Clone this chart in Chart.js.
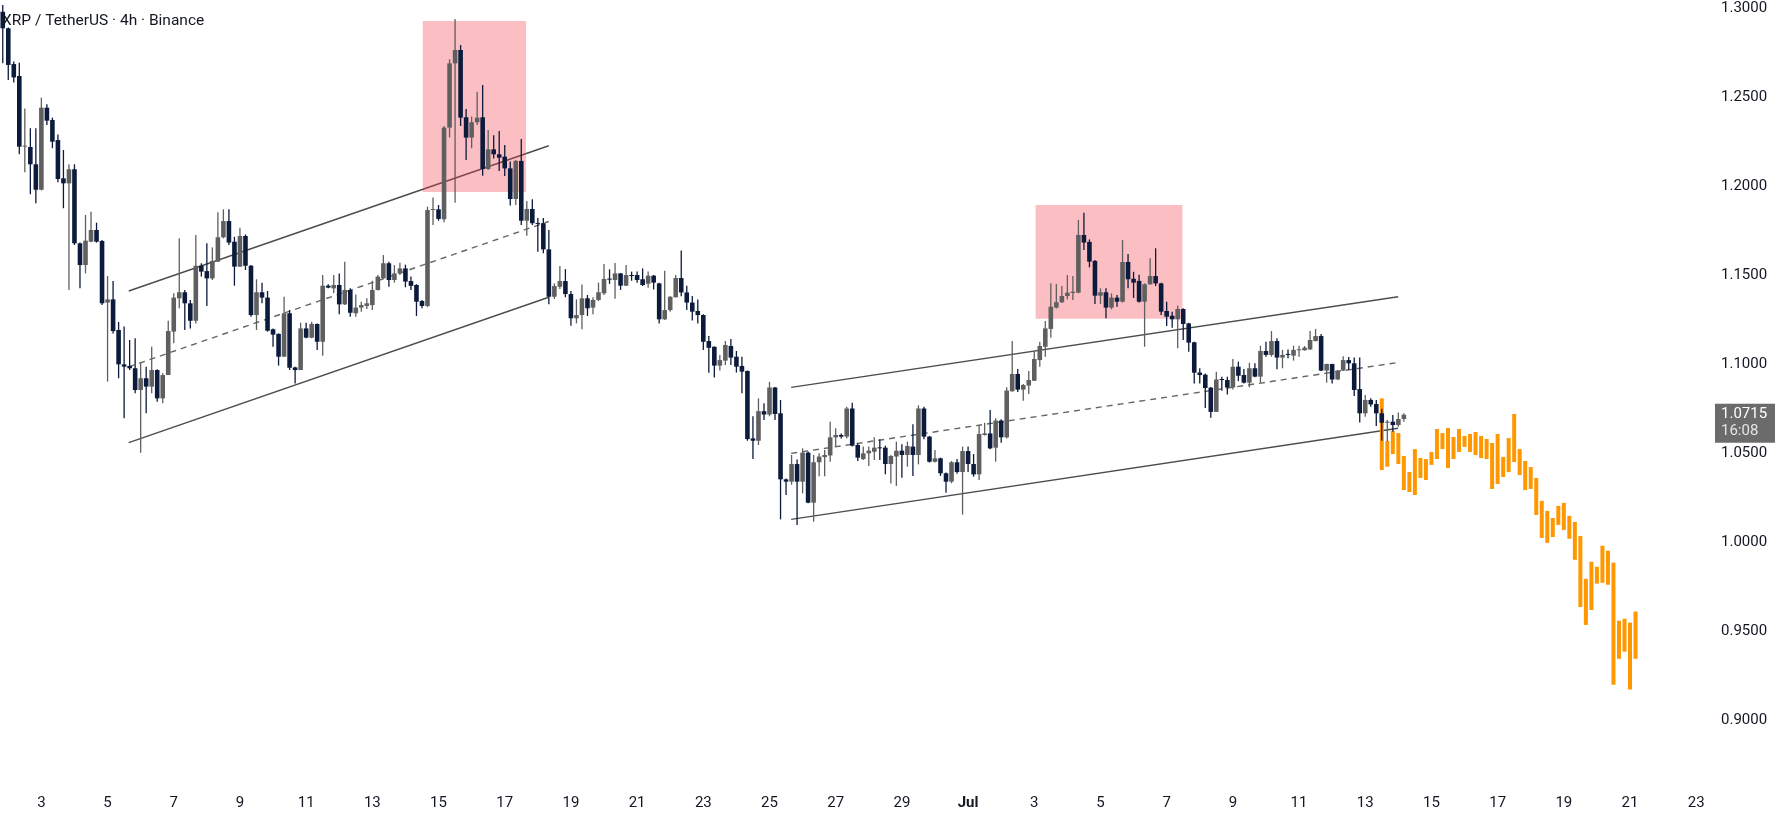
<!DOCTYPE html>
<html>
<head>
<meta charset="utf-8">
<script src="https://cdn.jsdelivr.net/npm/chart.js@4.4.1/dist/chart.umd.min.js"></script>
<style>
  html, body { margin: 0; padding: 0; background: #ffffff; }
  #chart { display: block; }
</style>
</head>
<body>
<canvas id="chart" width="1775" height="815"></canvas>
<script>
// XRP / TetherUS, 4h candles, first bar Jun 1 20:00
const titleText = 'XRP / TetherUS · 4h · Binance';
const firstBarUTC = Date.UTC(2021, 5, 1, 20);
const barHours = 4;
const slotCount = 310; // candles + empty space to the right
const monthNames = ['Jan', 'Feb', 'Mar', 'Apr', 'May', 'Jun', 'Jul', 'Aug', 'Sep', 'Oct', 'Nov', 'Dec'];

const opens = [
  1.2979, 1.2886, 1.2685, 1.2618, 1.2221, 1.2219, 1.2122, 1.1979, 1.2440, 1.2371,
  1.2258, 1.2043, 1.2015, 1.2094, 1.1678, 1.1556, 1.1687, 1.1753, 1.1691, 1.1345,
  1.1363, 1.1191, 1.0998, 1.0989, 1.0976, 1.0854, 1.0920, 1.0873, 1.0966, 1.0807,
  1.0938, 1.1182, 1.1369, 1.1403, 1.1341, 1.1243, 1.1552, 1.1522, 1.1481, 1.1575,
  1.1712, 1.1803, 1.1687, 1.1547, 1.1719, 1.1552, 1.1275, 1.1403, 1.1373, 1.1195,
  1.1169, 1.1041, 1.1285, 1.0981, 1.0966, 1.1200, 1.1148, 1.1225, 1.1125, 1.1440,
  1.1425, 1.1444, 1.1335, 1.1416, 1.1285, 1.1317, 1.1326, 1.1331, 1.1416, 1.1481,
  1.1566, 1.1472, 1.1509, 1.1537, 1.1466, 1.1444, 1.1354, 1.1326, 1.1865, 1.1869,
  1.1813, 1.2328, 1.2689, 1.2764, 1.2386, 1.2272, 1.2358, 1.2386, 1.2096, 1.2206,
  1.2178, 1.2165, 1.2099, 1.1927, 1.2141, 1.1805, 1.1871, 1.1791, 1.1791, 1.1644,
  1.1378, 1.1434, 1.1466, 1.1393, 1.1257, 1.1275, 1.1369, 1.1317, 1.1360, 1.1397,
  1.1478, 1.1472, 1.1509, 1.1440, 1.1500, 1.1500, 1.1476, 1.1451, 1.1496, 1.1453,
  1.1251, 1.1303, 1.1375, 1.1483, 1.1402, 1.1345, 1.1298, 1.1275, 1.1129, 1.1097,
  1.0991, 1.1019, 1.1101, 1.1041, 1.0989, 1.0961, 1.0582, 1.0569, 1.0735, 1.0716,
  1.0868, 1.0723, 1.0352, 1.0339, 1.0438, 1.0339, 1.0502, 1.0221, 1.0448, 1.0477,
  1.0486, 1.0588, 1.0601, 1.0592, 1.0750, 1.0545, 1.0466, 1.0498, 1.0507, 1.0530,
  1.0530, 1.0438, 1.0480, 1.0513, 1.0489, 1.0536, 1.0489, 1.0750, 1.0592, 1.0451,
  1.0470, 1.0386, 1.0339, 1.0448, 1.0393, 1.0511, 1.0438, 1.0380, 1.0601, 1.0610,
  1.0530, 1.0682, 1.0588, 1.0847, 1.0944, 1.0856, 1.0879, 1.0906, 1.1022, 1.1097,
  1.1197, 1.1317, 1.1347, 1.1382, 1.1399, 1.1401, 1.1725, 1.1686, 1.1579, 1.1384,
  1.1403, 1.1317, 1.1373, 1.1350, 1.1573, 1.1479, 1.1467, 1.1350, 1.1448, 1.1494,
  1.1453, 1.1298, 1.1271, 1.1251, 1.1309, 1.1228, 1.1122, 1.0952, 1.0940, 1.0867,
  1.0731, 1.0915, 1.0910, 1.0868, 1.0985, 1.0938, 1.0895, 1.0976, 1.0929, 1.1073,
  1.1051, 1.1129, 1.1036, 1.1056, 1.1047, 1.1077, 1.1077, 1.1082, 1.1129, 1.1157,
  1.0963, 1.1000, 1.0913, 1.0963, 1.1022, 1.1004, 1.0859, 1.0723, 1.0798, 1.0775,
  1.0723, 1.0670, 1.0676, 1.0657, 1.0691
];
const highs = [
  1.3017, 1.2890, 1.2699, 1.2693, 1.2436, 1.2324, 1.2324, 1.2496, 1.2459, 1.2384,
  1.2290, 1.2202, 1.2122, 1.2122, 1.1682, 1.1837, 1.1856, 1.1794, 1.1697, 1.1494,
  1.1466, 1.1236, 1.1210, 1.1135, 1.1144, 1.1004, 1.0985, 1.1097, 1.0970, 1.0948,
  1.1243, 1.1397, 1.1706, 1.1416, 1.1359, 1.1725, 1.1566, 1.1678, 1.1655, 1.1852,
  1.1869, 1.1869, 1.1715, 1.1766, 1.1728, 1.1556, 1.1476, 1.1457, 1.1410, 1.1200,
  1.1172, 1.1378, 1.1303, 1.0985, 1.1232, 1.1232, 1.1238, 1.1228, 1.1500, 1.1448,
  1.1500, 1.1509, 1.1575, 1.1425, 1.1391, 1.1350, 1.1369, 1.1468, 1.1500, 1.1612,
  1.1575, 1.1556, 1.1569, 1.1558, 1.1491, 1.1448, 1.1360, 1.1884, 1.1936, 1.1893,
  1.2337, 1.2712, 1.2938, 1.2792, 1.2433, 1.2390, 1.2530, 1.2567, 1.2315, 1.2285,
  1.2309, 1.2230, 1.2137, 1.2146, 1.2264, 1.1916, 1.1925, 1.1820, 1.1820, 1.1753,
  1.1453, 1.1550, 1.1533, 1.1410, 1.1363, 1.1447, 1.1388, 1.1375, 1.1457, 1.1562,
  1.1532, 1.1567, 1.1511, 1.1556, 1.1519, 1.1519, 1.1537, 1.1519, 1.1500, 1.1457,
  1.1524, 1.1381, 1.1500, 1.1637, 1.1440, 1.1382, 1.1363, 1.1280, 1.1157, 1.1099,
  1.1051, 1.1129, 1.1140, 1.1073, 1.1041, 1.0963, 1.0706, 1.0807, 1.0779, 1.0900,
  1.0871, 1.0798, 1.0357, 1.0489, 1.0464, 1.0526, 1.0508, 1.0489, 1.0498, 1.0517,
  1.0676, 1.0639, 1.0610, 1.0760, 1.0783, 1.0554, 1.0536, 1.0536, 1.0588, 1.0577,
  1.0541, 1.0489, 1.0564, 1.0549, 1.0564, 1.0661, 1.0768, 1.0760, 1.0596, 1.0517,
  1.0474, 1.0390, 1.0455, 1.0466, 1.0536, 1.0536, 1.0494, 1.0657, 1.0670, 1.0742,
  1.0695, 1.0690, 1.0870, 1.1129, 1.0972, 1.0888, 1.0961, 1.1069, 1.1125, 1.1242,
  1.1453, 1.1449, 1.1438, 1.1500, 1.1494, 1.1809, 1.1850, 1.1700, 1.1584, 1.1425,
  1.1425, 1.1397, 1.1388, 1.1697, 1.1618, 1.1518, 1.1502, 1.1453, 1.1594, 1.1650,
  1.1457, 1.1350, 1.1294, 1.1328, 1.1313, 1.1232, 1.1125, 1.0976, 1.0946, 1.0871,
  1.0957, 1.0929, 1.0929, 1.1028, 1.1013, 1.0972, 1.1007, 1.1004, 1.1103, 1.1125,
  1.1185, 1.1144, 1.1079, 1.1082, 1.1103, 1.1103, 1.1101, 1.1185, 1.1197, 1.1168,
  1.1002, 1.1002, 1.0966, 1.1043, 1.1039, 1.1036, 1.1036, 1.0826, 1.0807, 1.0798,
  1.0748, 1.0686, 1.0714, 1.0727, 1.0723
];
const lows = [
  1.2689, 1.2596, 1.2581, 1.2178, 1.2077, 1.1953, 1.1903, 1.1975, 1.2343, 1.2212,
  1.2021, 1.1875, 1.1416, 1.1669, 1.1425, 1.1509, 1.1684, 1.1682, 1.1331, 1.0901,
  1.1172, 1.0920, 1.0695, 1.0966, 1.0835, 1.0502, 1.0723, 1.0835, 1.0788, 1.0779,
  1.0938, 1.1116, 1.1313, 1.1191, 1.1200, 1.1228, 1.1491, 1.1326, 1.1472, 1.1575,
  1.1706, 1.1669, 1.1440, 1.1545, 1.1528, 1.1266, 1.1191, 1.1341, 1.1182, 1.1097,
  1.0991, 1.1041, 1.0966, 1.0891, 1.0966, 1.1144, 1.1144, 1.1079, 1.1047, 1.1425,
  1.1397, 1.1279, 1.1331, 1.1266, 1.1266, 1.1294, 1.1309, 1.1303, 1.1413, 1.1479,
  1.1434, 1.1457, 1.1500, 1.1431, 1.1416, 1.1270, 1.1313, 1.1320, 1.1781, 1.1805,
  1.1796, 1.2273, 1.1906, 1.2337, 1.2146, 1.2212, 1.2343, 1.2058, 1.2090, 1.2155,
  1.2084, 1.2056, 1.1890, 1.1893, 1.1781, 1.1721, 1.1781, 1.1631, 1.1622, 1.1335,
  1.1365, 1.1421, 1.1375, 1.1215, 1.1228, 1.1195, 1.1270, 1.1279, 1.1354, 1.1388,
  1.1450, 1.1367, 1.1416, 1.1438, 1.1468, 1.1457, 1.1438, 1.1429, 1.1419, 1.1228,
  1.1247, 1.1294, 1.1373, 1.1381, 1.1303, 1.1245, 1.1228, 1.1079, 1.0951, 1.0924,
  1.0963, 1.0994, 1.0994, 1.0952, 1.0836, 1.0569, 1.0466, 1.0545, 1.0686, 1.0706,
  1.0686, 1.0127, 1.0264, 1.0322, 1.0096, 1.0273, 1.0217, 1.0114, 1.0369, 1.0369,
  1.0451, 1.0536, 1.0582, 1.0582, 1.0536, 1.0455, 1.0461, 1.0427, 1.0461, 1.0461,
  1.0380, 1.0328, 1.0315, 1.0361, 1.0423, 1.0371, 1.0436, 1.0577, 1.0446, 1.0446,
  1.0371, 1.0277, 1.0330, 1.0384, 1.0154, 1.0393, 1.0367, 1.0348, 1.0598, 1.0521,
  1.0451, 1.0558, 1.0582, 1.0844, 1.0843, 1.0794, 1.0832, 1.0904, 1.0985, 1.1041,
  1.1148, 1.1312, 1.1343, 1.1363, 1.1360, 1.1397, 1.1640, 1.1543, 1.1337, 1.1337,
  1.1257, 1.1307, 1.1322, 1.1345, 1.1425, 1.1371, 1.1345, 1.1097, 1.1445, 1.1438,
  1.1275, 1.1213, 1.1204, 1.1088, 1.1135, 1.1069, 1.0891, 1.0891, 1.0753, 1.0698,
  1.0730, 1.0850, 1.0829, 1.0857, 1.0904, 1.0891, 1.0869, 1.0926, 1.0895, 1.1041,
  1.1041, 1.0970, 1.0976, 1.1032, 1.1019, 1.1041, 1.1075, 1.1079, 1.1127, 1.0961,
  1.0895, 1.0891, 1.0910, 1.0961, 1.0966, 1.0820, 1.0672, 1.0704, 1.0760, 1.0651,
  1.0569, 1.0564, 1.0620, 1.0648, 1.0676
];
const closes = [
  1.2886, 1.2680, 1.2610, 1.2221, 1.2225, 1.2122, 1.1979, 1.2440, 1.2367, 1.2249,
  1.2039, 1.2015, 1.2094, 1.1678, 1.1556, 1.1693, 1.1753, 1.1687, 1.1341, 1.1363,
  1.1185, 1.0998, 1.0985, 1.0976, 1.0854, 1.0920, 1.0873, 1.0966, 1.0807, 1.0938,
  1.1185, 1.1373, 1.1403, 1.1341, 1.1243, 1.1552, 1.1519, 1.1481, 1.1579, 1.1712,
  1.1803, 1.1682, 1.1547, 1.1719, 1.1552, 1.1275, 1.1403, 1.1373, 1.1187, 1.1165,
  1.1041, 1.1285, 1.0979, 1.0966, 1.1200, 1.1148, 1.1225, 1.1125, 1.1440, 1.1429,
  1.1444, 1.1335, 1.1416, 1.1288, 1.1317, 1.1331, 1.1341, 1.1416, 1.1491, 1.1566,
  1.1472, 1.1509, 1.1537, 1.1463, 1.1439, 1.1350, 1.1326, 1.1865, 1.1869, 1.1815,
  1.2328, 1.2689, 1.2764, 1.2384, 1.2272, 1.2358, 1.2384, 1.2096, 1.2206, 1.2178,
  1.2159, 1.2099, 1.1927, 1.2141, 1.1805, 1.1871, 1.1791, 1.1787, 1.1644, 1.1378,
  1.1438, 1.1466, 1.1393, 1.1257, 1.1275, 1.1369, 1.1313, 1.1360, 1.1403, 1.1478,
  1.1474, 1.1509, 1.1440, 1.1500, 1.1494, 1.1472, 1.1444, 1.1496, 1.1457, 1.1251,
  1.1303, 1.1378, 1.1483, 1.1402, 1.1345, 1.1294, 1.1275, 1.1125, 1.1091, 1.0991,
  1.1022, 1.1107, 1.1036, 1.0985, 1.0957, 1.0578, 1.0569, 1.0735, 1.0716, 1.0868,
  1.0719, 1.0352, 1.0339, 1.0438, 1.0339, 1.0502, 1.0221, 1.0448, 1.0480, 1.0489,
  1.0588, 1.0601, 1.0592, 1.0750, 1.0541, 1.0474, 1.0498, 1.0513, 1.0530, 1.0526,
  1.0438, 1.0483, 1.0513, 1.0489, 1.0539, 1.0489, 1.0750, 1.0592, 1.0451, 1.0470,
  1.0386, 1.0339, 1.0448, 1.0393, 1.0511, 1.0438, 1.0380, 1.0607, 1.0610, 1.0526,
  1.0682, 1.0588, 1.0851, 1.0944, 1.0856, 1.0882, 1.0910, 1.1028, 1.1101, 1.1200,
  1.1322, 1.1347, 1.1382, 1.1401, 1.1406, 1.1725, 1.1682, 1.1575, 1.1384, 1.1403,
  1.1317, 1.1373, 1.1350, 1.1573, 1.1476, 1.1457, 1.1350, 1.1448, 1.1494, 1.1453,
  1.1294, 1.1266, 1.1251, 1.1309, 1.1225, 1.1120, 1.0951, 1.0938, 1.0865, 1.0731,
  1.0913, 1.0910, 1.0868, 1.0985, 1.0934, 1.0895, 1.0976, 1.0929, 1.1073, 1.1051,
  1.1129, 1.1036, 1.1051, 1.1051, 1.1079, 1.1079, 1.1092, 1.1135, 1.1157, 1.0963,
  1.1000, 1.0913, 1.0963, 1.1022, 1.1004, 1.0854, 1.0723, 1.0798, 1.0773, 1.0723,
  1.0670, 1.0676, 1.0657, 1.0691, 1.0715
];

// projected path (orange bars), starts at bar 250
const projStart = 250;
const projLows = [
  1.0404, 1.0423, 1.0494, 1.0438, 1.0292, 1.0281, 1.0264, 1.0360, 1.0348, 1.0433,
  1.0466, 1.0522, 1.0416, 1.0466, 1.0506, 1.0534, 1.0506, 1.0489, 1.0472, 1.0466,
  1.0298, 1.0326, 1.0365, 1.0393, 1.0449, 1.0376, 1.0292, 1.0298, 1.0152, 1.0023,
  0.9995, 1.0028, 1.0096, 1.0068, 1.0018, 0.9900, 0.9635, 0.9534, 0.9618, 0.9766,
  0.9771, 0.9760, 0.9198, 0.9344, 0.9384, 0.9171, 0.9344
];
const projHighs = [
  1.0807, 1.0567, 1.0624, 1.0612, 1.0483, 1.0393, 1.0522, 1.0472, 1.0466, 1.0506,
  1.0635, 1.0612, 1.0640, 1.0590, 1.0635, 1.0596, 1.0607, 1.0618, 1.0596, 1.0579,
  1.0556, 1.0607, 1.0478, 1.0584, 1.0719, 1.0522, 1.0455, 1.0421, 1.0360, 1.0231,
  1.0175, 1.0135, 1.0203, 1.0220, 1.0147, 1.0113, 1.0034, 0.9793, 0.9889, 0.9861,
  0.9979, 0.9951, 0.9884, 0.9558, 0.9569, 0.9547, 0.9609
];

// drawings, in bar index / price
const zoneX = [[76.1, 94.9], [187.2, 213.9]];
const zoneTop = [1.2927, 1.1893];
const zoneBottom = [1.1966, 1.1254];
const channelX = [[22.84, 98.98], [142.93, 252.97]];
const channelUpper = [[1.1410, 1.2226], [1.0869, 1.1378]];
const channelLower = [[1.0558, 1.1375], [1.0127, 1.0639]];

const yTickValues = [0.90, 0.95, 1.00, 1.05, 1.10, 1.15, 1.20, 1.25, 1.30];
const countdownText = '16:08';

const upColor = '#5f5f5f';
const downColor = '#0c1a3c';
const fontFamily = 'Roboto, "Noto Sans", sans-serif';

function barDate(i) {
  return new Date(firstBarUTC + i * barHours * 3600000);
}
// one label every 2 days, month name on the 1st
const dayTicks = [];
for (let i = 0; i < slotCount; i++) {
  const d = barDate(i);
  if (d.getUTCHours() === 0 && d.getUTCDate() % 2 === 1) dayTicks.push(i);
}
function dayLabel(i) {
  const d = barDate(i);
  return d.getUTCDate() === 1 ? monthNames[d.getUTCMonth()] : String(d.getUTCDate());
}

const candleColor = ctx => closes[ctx.dataIndex] >= opens[ctx.dataIndex] ? upColor : downColor;

const datasets = [];

channelX.forEach((xs, c) => {
  const mid = [(channelUpper[c][0] + channelLower[c][0]) / 2, (channelUpper[c][1] + channelLower[c][1]) / 2];
  [channelUpper[c], channelLower[c], mid].forEach((ys, k) => {
    datasets.push({
      type: 'line',
      data: [{ x: xs[0], y: ys[0] }, { x: xs[1], y: ys[1] }],
      borderColor: k === 2 ? '#666666' : '#4d4d4d',
      borderWidth: 1.4,
      borderDash: k === 2 ? [6, 5] : [],
      pointRadius: 0,
      fill: false,
      order: 40
    });
  });
});

zoneX.forEach((xs, z) => {
  datasets.push({
    type: 'line',
    data: [{ x: xs[0], y: zoneTop[z] }, { x: xs[1], y: zoneTop[z] }],
    borderWidth: 0,
    pointRadius: 0,
    fill: { value: zoneBottom[z] },
    backgroundColor: 'rgba(242, 54, 69, 0.32)',
    order: 30
  });
});

datasets.push({
  type: 'bar',
  data: projLows.map((l, k) => ({ x: projStart + k, y: [l, projHighs[k]] })),
  backgroundColor: '#ff9800',
  barThickness: 4,
  grouped: false,
  inflateAmount: 0,
  order: 25
});

datasets.push({
  type: 'bar',
  data: opens.map((_, i) => ({ x: i, y: [lows[i], highs[i]] })),
  backgroundColor: candleColor,
  barThickness: 1.3,
  grouped: false,
  inflateAmount: 0,
  order: 20
});

datasets.push({
  type: 'bar',
  data: opens.map((o, i) => ({ x: i, y: [o, closes[i]] })),
  backgroundColor: candleColor,
  barThickness: 4.6,
  minBarLength: 1,
  grouped: false,
  inflateAmount: 0,
  order: 10
});

const overlayText = {
  id: 'overlayText',
  afterDraw(chart) {
    const { ctx } = chart;
    const y = chart.scales.y;
    ctx.save();
    // symbol title
    ctx.font = '15.5px ' + fontFamily;
    ctx.fillStyle = '#131722';
    ctx.textBaseline = 'alphabetic';
    ctx.textAlign = 'left';
    ctx.fillText(titleText, 2, 25);
    // last price tag
    const last = closes[closes.length - 1];
    const py = y.getPixelForValue(last);
    const left = y.left + 5;
    ctx.fillStyle = '#6b6b6b';
    ctx.fillRect(left, py - 11, chart.width - left, 39);
    ctx.textBaseline = 'middle';
    ctx.font = '15px ' + fontFamily;
    ctx.fillStyle = '#ffffff';
    ctx.fillText(last.toFixed(4), y.left + 11, py);
    ctx.fillStyle = '#e4e4e4';
    ctx.fillText(countdownText, y.left + 11, py + 17);
    ctx.restore();
  }
};

new Chart(document.getElementById('chart').getContext('2d'), {
  type: 'bar',
  data: { datasets },
  options: {
    responsive: false,
    animation: false,
    events: [],
    layout: { padding: 0, autoPadding: false },
    plugins: {
      legend: { display: false },
      tooltip: { enabled: false }
    },
    scales: {
      x: {
        type: 'linear',
        offset: false,
        min: -0.5,
        max: slotCount - 0.5,
        grid: { display: false, drawTicks: false, offset: false },
        border: { display: false },
        afterBuildTicks: scale => { scale.ticks = dayTicks.map(v => ({ value: v })); },
        afterFit: scale => {
          scale.height = 30;
          scale.paddingLeft = 0;
          scale.paddingRight = 0;
        },
        ticks: {
          autoSkip: false,
          maxRotation: 0,
          padding: 9,
          color: '#131722',
          font: ctx => ({
            family: fontFamily,
            size: 15,
            weight: ctx.tick && ctx.tick.label === 'Jul' ? 'bold' : 'normal'
          }),
          callback: value => dayLabel(value)
        }
      },
      y: {
        position: 'right',
        min: 0.863483,
        max: 1.304494,
        grid: { display: false, drawTicks: false },
        border: { display: false },
        afterBuildTicks: scale => { scale.ticks = yTickValues.map(v => ({ value: v })); },
        afterFit: scale => {
          scale.width = 65;
          scale.paddingTop = 0;
          scale.paddingBottom = 0;
        },
        ticks: {
          padding: 11,
          color: '#131722',
          font: { family: fontFamily, size: 15 },
          callback: value => Number(value).toFixed(4)
        }
      }
    }
  },
  plugins: [overlayText]
});
</script>
</body>
</html>
